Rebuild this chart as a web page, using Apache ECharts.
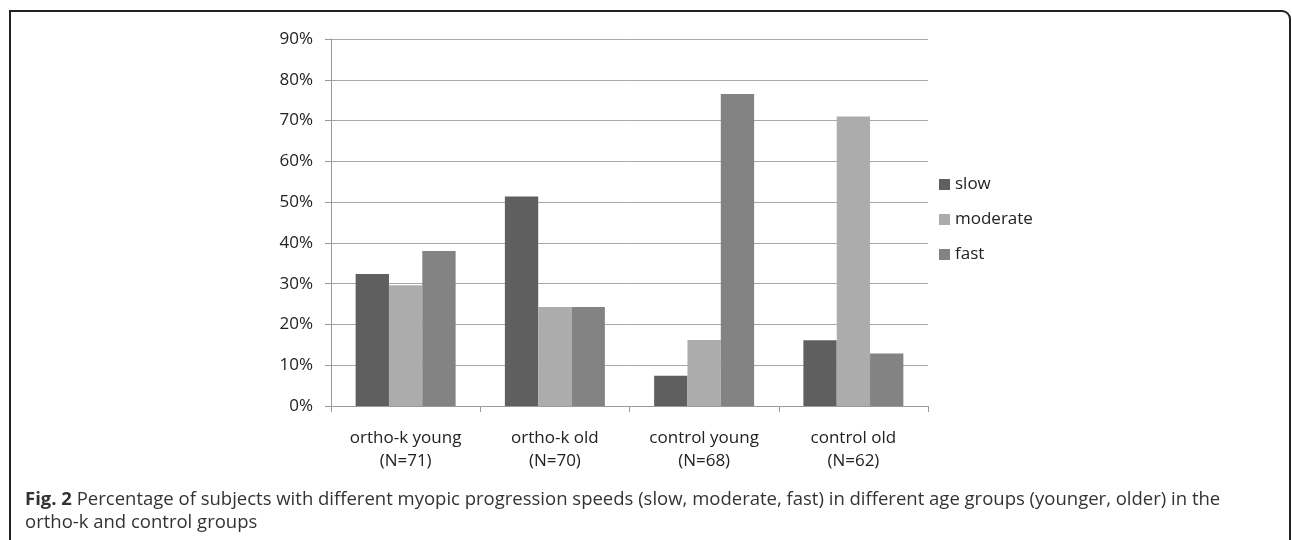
<!DOCTYPE html>
<html>
<head>
<meta charset="utf-8">
<script src="https://cdn.jsdelivr.net/npm/echarts@6/dist/echarts.min.js"></script>
<style>
html,body{margin:0;padding:0;background:#fff;}
#chart{width:1292px;height:540px;}
</style>
</head>
<body>
<div id="chart"></div>
<script>
var categories = ['ortho-k young\n(N=71)', 'ortho-k old\n(N=70)', 'control young\n(N=68)', 'control old\n(N=62)'];
var seriesNames = ['slow', 'moderate', 'fast'];
var slowValues = [32.4, 51.4, 7.4, 16.1];
var moderateValues = [29.6, 24.3, 16.2, 71.0];
var fastValues = [38.0, 24.3, 76.5, 12.9];
var yTicks = [0, 10, 20, 30, 40, 50, 60, 70, 80, 90];
var captionBold = 'Fig. 2';
var captionLine1 = ' Percentage of subjects with different myopic progression speeds (slow, moderate, fast) in different age groups (younger, older) in the';
var captionLine2 = 'ortho-k and control groups';

var colors = ['#5f5f5f', '#acacac', '#838383'];
var chart = echarts.init(document.getElementById('chart'));
var font = 'Open Sans';
chart.setOption({
  animation: false,
  color: colors,
  grid: {left: 331, right: 364, top: 39, bottom: 134, containLabel: false},
  legend: {
    orient: 'vertical', left: 934, top: 171,
    itemWidth: 11, itemHeight: 11, itemGap: 18,
    icon: 'rect',
    data: seriesNames,
    textStyle: {fontFamily: font, fontSize: 17, color: '#222'}
  },
  xAxis: {
    type: 'category', data: categories,
    axisLine: {lineStyle: {color: '#9a9a9a', width: 1}},
    axisTick: {show: true, length: 6, lineStyle: {color: '#9a9a9a'}},
    axisLabel: {margin: 21, fontFamily: font, fontSize: 17, color: '#222', lineHeight: 23}
  },
  yAxis: {
    type: 'value', min: yTicks[0], max: yTicks[yTicks.length - 1], interval: 10,
    axisLine: {show: true, lineStyle: {color: '#9a9a9a'}},
    axisTick: {show: true, length: 6, lineStyle: {color: '#9a9a9a'}},
    splitLine: {lineStyle: {color: '#a8a8a8', width: 1}},
    axisLabel: {margin: 18, fontFamily: font, fontSize: 17, color: '#222', formatter: '{value}%'}
  },
  series: [
    {name: seriesNames[0], type: 'bar', data: slowValues, barGap: '0%', barCategoryGap: '33%'},
    {name: seriesNames[1], type: 'bar', data: moderateValues, barGap: '0%', barCategoryGap: '33%'},
    {name: seriesNames[2], type: 'bar', data: fastValues, barGap: '0%', barCategoryGap: '33%'}
  ],
  graphic: [
    {type: 'polyline', shape: {points: [[10, 540], [10, 11], [1282, 11]]}, style: {stroke: '#222', lineWidth: 2, fill: null}},
    {type: 'arc', shape: {cx: 1282, cy: 19, r: 8, startAngle: -Math.PI / 2, endAngle: 0}, style: {stroke: '#222', lineWidth: 2, fill: null}},
    {type: 'line', shape: {x1: 1290, y1: 19, x2: 1290, y2: 540}, style: {stroke: '#222', lineWidth: 2}},
    {type: 'text', left: 25, top: 490, style: {
      text: '{b|' + captionBold + '}' + captionLine1,
      font: '18.5px "Open Sans"', fill: '#333',
      rich: {b: {fontWeight: 'bold', fontSize: 18.5, fontFamily: 'Open Sans', fill: '#333'}}
    }},
    {type: 'text', left: 25, top: 513, style: {text: captionLine2, font: '18.5px "Open Sans"', fill: '#333'}}
  ]
});
</script>
</body>
</html>
